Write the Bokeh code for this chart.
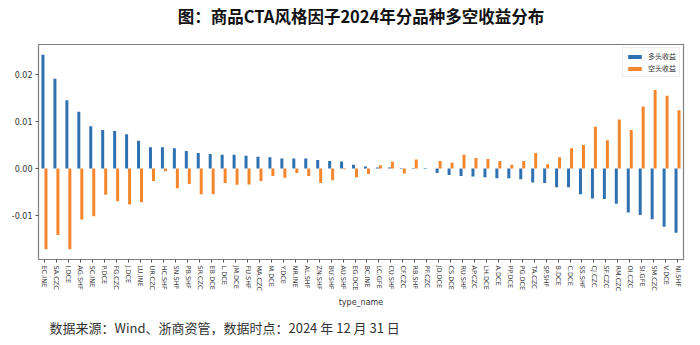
from bokeh.plotting import figure
from bokeh.models import FactorRange, Range1d, Title, FixedTicker, NumeralTickFormatter, ColumnDataSource
from bokeh.transform import dodge
from bokeh.embed import file_html
from bokeh.resources import INLINE

categories = ["EC.INE", "SA.CZC", "I.DCE", "AG.SHF", "SC.INE", "P.DCE", "FG.CZC", "J.DCE", "LU.INE",
              "UR.CZC", "HC.SHF", "SN.SHF", "PB.SHF", "SR.CZC", "EB.DCE", "L.DCE", "JM.DCE", "FU.SHF",
              "MA.CZC", "M.DCE", "Y.DCE", "NR.INE", "AL.SHF", "ZN.SHF", "BU.SHF", "AU.SHF", "EG.DCE",
              "BC.INE", "LC.GFE", "CU.SHF", "CF.CZC", "RB.SHF", "PF.CZC", "JD.DCE", "CS.DCE", "RU.SHF",
              "AP.CZC", "LH.DCE", "A.DCE", "PP.DCE", "PG.DCE", "TA.CZC", "SP.SHF", "B.DCE", "C.DCE",
              "SS.SHF", "CJ.CZC", "SF.CZC", "RM.CZC", "OI.CZC", "SI.GFE", "SM.CZC", "V.DCE", "NI.SHF"]

long_returns = [0.0242, 0.0191, 0.0145, 0.0121, 0.0090, 0.0082, 0.0080, 0.0073, 0.0059,
                0.0045, 0.0045, 0.0043, 0.0037, 0.0033, 0.0031, 0.0029, 0.0029, 0.0027,
                0.0025, 0.0024, 0.0021, 0.0021, 0.0021, 0.0018, 0.0016, 0.0015, 0.0008,
                0.0004, 0.0002, 0.0002, 0.0001, 0.0001, -0.0001, -0.0010, -0.0014, -0.0016,
                -0.0017, -0.0019, -0.0021, -0.0021, -0.0023, -0.0030, -0.0031, -0.0040, -0.0040,
                -0.0055, -0.0064, -0.0065, -0.0075, -0.0094, -0.0099, -0.0108, -0.0124, -0.0137]

short_returns = [-0.0172, -0.0142, -0.0172, -0.0109, -0.0102, -0.0056, -0.0070, -0.0077, -0.0072,
                 -0.0027, -0.0006, -0.0042, -0.0033, -0.0055, -0.0055, -0.0031, -0.0035, -0.0034,
                 -0.0027, -0.0016, -0.0020, -0.0010, -0.0016, -0.0031, -0.0025, -0.0002, -0.0019,
                 -0.0012, 0.0007, 0.0014, -0.0011, 0.0019, 0.0000, 0.0016, 0.0012, 0.0029,
                 0.0022, 0.0020, 0.0016, 0.0008, 0.0016, 0.0033, 0.0009, 0.0024, 0.0043,
                 0.0050, 0.0089, 0.0060, 0.0104, 0.0082, 0.0132, 0.0167, 0.0155, 0.0124]

y_ticks = [-0.01, 0.0, 0.01, 0.02]

series_names = ["多头收益", "空头收益"]
title_text = "图：商品CTA风格因子2024年分品种多空收益分布"
footer_text = "数据来源：Wind、浙商资管，数据时点：2024 年 12 月 31 日"

BLUE = "#2f71b0"
ORANGE = "#f4862e"
CJK = "Noto Sans CJK SC"

source = ColumnDataSource(dict(cat=categories, long=long_returns, short=short_returns))

p = figure(width=700, height=345, output_backend="svg", toolbar_location=None,
           x_range=FactorRange(factors=categories, range_padding=0),
           y_range=Range1d(-0.0194, 0.0264),
           min_border_left=38, min_border_right=17, min_border_top=44, min_border_bottom=86)

p.vbar(x=dodge("cat", -0.125, range=p.x_range), top="long", width=0.25, source=source,
       fill_color=BLUE, line_color=None, legend_label=series_names[0])
p.vbar(x=dodge("cat", 0.125, range=p.x_range), top="short", width=0.25, source=source,
       fill_color=ORANGE, line_color=None, legend_label=series_names[1])

p.xgrid.grid_line_color = None
p.ygrid.grid_line_color = None
p.outline_line_color = "#7f7f7f"
p.outline_line_width = 1.2
p.background_fill_color = "white"
p.border_fill_color = "white"

# axes
for ax in (p.xaxis[0], p.yaxis[0]):
    ax.axis_line_color = None
    ax.major_tick_line_color = "#555555"
    ax.major_tick_out = 3
    ax.major_tick_in = 0
    ax.minor_tick_line_color = None
    ax.major_label_text_color = "#333333"
    ax.major_label_text_font = "DejaVu Sans"

p.yaxis.ticker = FixedTicker(ticks=y_ticks)
p.yaxis.formatter = NumeralTickFormatter(format="0.00")
p.yaxis.major_label_text_font_size = "8px"
p.yaxis.major_label_standoff = 3

p.xaxis.major_label_orientation = "vertical"
p.xaxis.major_label_text_font_size = "6.5px"
p.xaxis.major_label_standoff = 3
p.xaxis.axis_label = "type_name"
p.xaxis.axis_label_text_font = "DejaVu Sans"
p.xaxis.axis_label_text_font_size = "8px"
p.xaxis.axis_label_text_font_style = "normal"
p.xaxis.axis_label_text_color = "#333333"
p.xaxis.axis_label_standoff = 4

# legend
p.legend.location = "top_right"
p.legend.label_text_font = CJK
p.legend.label_text_font_size = "7px"
p.legend.label_text_color = "#333333"
p.legend.glyph_width = 17
p.legend.glyph_height = 5
p.legend.label_height = 7
p.legend.spacing = 2
p.legend.padding = 3
p.legend.margin = 3
p.legend.border_line_color = "#dddddd"
p.legend.background_fill_alpha = 0.9

# title (outermost) with a blank spacer panel between it and the frame
p.title.text = title_text
p.title.align = "center"
p.title.offset = -10
p.title.standoff = 0
p.title.text_font = CJK
p.title.text_font_size = "16.5px"
p.title.text_font_style = "bold"
p.title.text_color = "#111111"

spacer = Title(text=" ", text_font=CJK, text_font_size="10.5px", standoff=0)
p.add_layout(spacer, "above")

footer = Title(text=footer_text, align="left", offset=11, text_font=CJK,
               text_font_size="13px", text_font_style="normal", text_color="#333333")
p.add_layout(footer, "below")

open("out.html", "w").write(file_html(p, INLINE))
